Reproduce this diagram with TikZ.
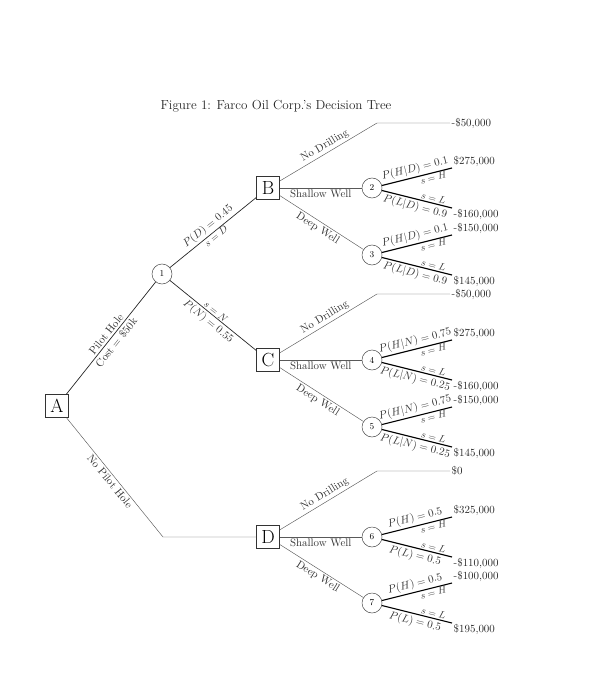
\documentclass[tikz,border=0pt]{standalone}
\begin{document}
\begin{tikzpicture}[x=1pt,y=-1pt,
  dec/.style={draw=black!80, line width=0.5pt, minimum size=23pt, inner sep=0pt, font=\fontsize{19}{19}\selectfont},
  chance/.style={draw=black!70, line width=0.5pt, circle, minimum size=20pt, inner sep=0pt, font=\fontsize{9}{9}\selectfont},
  lab/.style={font=\fontsize{10.9}{12}\selectfont, sloped, inner sep=2pt, text=black!80},
  slab/.style={font=\fontsize{9.8}{11}\selectfont, sloped, inner sep=1pt, text=black!80},
  pay/.style={font=\fontsize{10.9}{12}\selectfont, anchor=west, inner sep=1.5pt, text=black!85},
  mainedge/.style={draw=black!85, line width=0.7pt},
  subedge/.style={draw=black!65, line width=0.45pt},
  outedge/.style={draw=black, line width=1.1pt}]
\useasboundingbox (0,0) rectangle (588,700);
\node[font=\fontsize{13.1}{15}\selectfont, text=black!85] (title) at (276,106) {Figure 1: Farco Oil Corp.'s Decision Tree};

% main nodes
\node[dec] (A) at (57,406) {A};
\node[chance] (n1) at (162,274) {1};
\node[dec] (B) at (268,188) {B};
\node[dec] (C) at (268,360) {C};
\node[dec] (D) at (268,537) {D};
\coordinate (d0) at (163,537);

\draw[mainedge] (A) -- node[lab,above]{Pilot Hole} node[lab,below]{Cost = \$50k} (n1);
\draw[subedge] (A) -- node[lab,below]{No Pilot Hole} (d0) -- (D);
\draw[mainedge] (n1) -- node[lab,above]{$P(D)=0.45$} node[slab,below]{$s=D$} (B);
\draw[mainedge] (n1) -- node[slab,above]{$s=N$} node[lab,below]{$P(N)=0.55$} (C);

% ---------- B subtree
\coordinate (bnd) at (377,123); \coordinate (bnde) at (450,123);
\draw[subedge] (B) -- node[lab,above]{No Drilling} (bnd) -- (bnde);
\node[pay] (pbnd) at (bnde) {-\$50,000};
\node[chance] (n2) at (372,188) {2};
\node[chance] (n3) at (372,255) {3};
\draw[subedge] (B) -- node[lab,below]{Shallow Well} (n2);
\draw[subedge] (B) -- node[lab,below]{Deep Well} (n3);
\coordinate (e2h) at (452,168); \coordinate (e2l) at (452,208);
\draw[outedge] (n2) -- node[lab,above]{$P(H|D)=0.1$} node[slab,below,pos=0.72]{$s=H$} (e2h);
\draw[outedge] (n2) -- node[slab,above,pos=0.72]{$s=L$} node[lab,below]{$P(L|D)=0.9$} (e2l);
\node[pay,anchor=south west] (p2h) at (e2h) {\$275,000};
\node[pay,anchor=north west] (p2l) at (e2l) {-\$160,000};
\coordinate (e3h) at (452,235); \coordinate (e3l) at (452,275);
\draw[outedge] (n3) -- node[lab,above]{$P(H|D)=0.1$} node[slab,below,pos=0.72]{$s=H$} (e3h);
\draw[outedge] (n3) -- node[slab,above,pos=0.72]{$s=L$} node[lab,below]{$P(L|D)=0.9$} (e3l);
\node[pay,anchor=south west] (p3h) at (e3h) {-\$150,000};
\node[pay,anchor=north west] (p3l) at (e3l) {\$145,000};

% ---------- C subtree
\coordinate (cnd) at (377,294); \coordinate (cnde) at (450,294);
\draw[subedge] (C) -- node[lab,above]{No Drilling} (cnd) -- (cnde);
\node[pay] (pcnd) at (cnde) {-\$50,000};
\node[chance] (n4) at (372,360) {4};
\node[chance] (n5) at (372,427) {5};
\draw[subedge] (C) -- node[lab,below]{Shallow Well} (n4);
\draw[subedge] (C) -- node[lab,below]{Deep Well} (n5);
\coordinate (e4h) at (452,340); \coordinate (e4l) at (452,380);
\draw[outedge] (n4) -- node[lab,above]{$P(H|N)=0.75$} node[slab,below,pos=0.72]{$s=H$} (e4h);
\draw[outedge] (n4) -- node[slab,above,pos=0.72]{$s=L$} node[lab,below]{$P(L|N)=0.25$} (e4l);
\node[pay,anchor=south west] (p4h) at (e4h) {\$275,000};
\node[pay,anchor=north west] (p4l) at (e4l) {-\$160,000};
\coordinate (e5h) at (452,407); \coordinate (e5l) at (452,447);
\draw[outedge] (n5) -- node[lab,above]{$P(H|N)=0.75$} node[slab,below,pos=0.72]{$s=H$} (e5h);
\draw[outedge] (n5) -- node[slab,above,pos=0.72]{$s=L$} node[lab,below]{$P(L|N)=0.25$} (e5l);
\node[pay,anchor=south west] (p5h) at (e5h) {-\$150,000};
\node[pay,anchor=north west] (p5l) at (e5l) {\$145,000};

% ---------- D subtree
\coordinate (dnd) at (377,471); \coordinate (dnde) at (450,471);
\draw[subedge] (D) -- node[lab,above]{No Drilling} (dnd) -- (dnde);
\node[pay] (pdnd) at (dnde) {\$0};
\node[chance] (n6) at (372,537) {6};
\node[chance] (n7) at (372,603) {7};
\draw[subedge] (D) -- node[lab,below]{Shallow Well} (n6);
\draw[subedge] (D) -- node[lab,below]{Deep Well} (n7);
\coordinate (e6h) at (452,517); \coordinate (e6l) at (452,557);
\draw[outedge] (n6) -- node[lab,above]{$P(H)=0.5$} node[slab,below,pos=0.72]{$s=H$} (e6h);
\draw[outedge] (n6) -- node[slab,above,pos=0.72]{$s=L$} node[lab,below]{$P(L)=0.5$} (e6l);
\node[pay,anchor=south west] (p6h) at (e6h) {\$325,000};
\node[pay,anchor=north west] (p6l) at (e6l) {-\$110,000};
\coordinate (e7h) at (452,583); \coordinate (e7l) at (452,623);
\draw[outedge] (n7) -- node[lab,above]{$P(H)=0.5$} node[slab,below,pos=0.72]{$s=H$} (e7h);
\draw[outedge] (n7) -- node[slab,above,pos=0.72]{$s=L$} node[lab,below]{$P(L)=0.5$} (e7l);
\node[pay,anchor=south west] (p7h) at (e7h) {-\$100,000};
\node[pay,anchor=north west] (p7l) at (e7l) {\$195,000};
\end{tikzpicture}
\end{document}
